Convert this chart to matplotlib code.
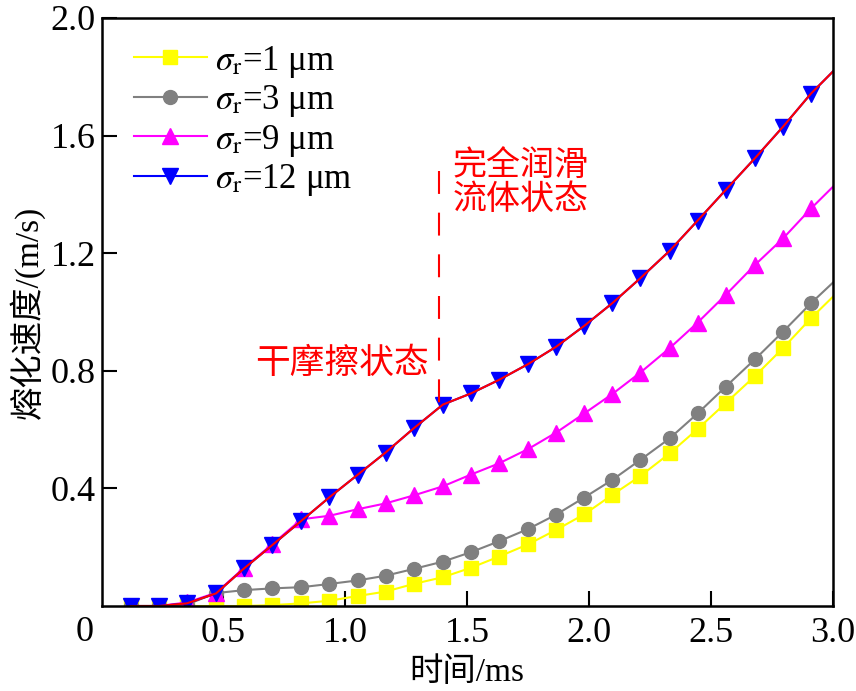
import matplotlib
matplotlib.use('Agg')
import matplotlib.pyplot as plt

plt.rcParams['font.family'] = ['Liberation Serif', 'Noto Sans CJK SC']
plt.rcParams['mathtext.fontset'] = 'stix'

# time axis (ms), markers on all but the last point
t_ms = [0.12, 0.235, 0.35, 0.47, 0.585, 0.70, 0.82, 0.935, 1.05, 1.165, 1.28, 1.40, 1.515,
        1.63, 1.75, 1.865, 1.98, 2.095, 2.21, 2.33, 2.445, 2.56, 2.68, 2.795, 2.91, 3.0]
v_r1 = [0, 0, 0, 0, 0.0, 0.003, 0.009, 0.018, 0.034, 0.049, 0.075, 0.098, 0.13,
        0.168, 0.21, 0.259, 0.312, 0.378, 0.442, 0.519, 0.602, 0.69, 0.782, 0.877, 0.979, 1.052]
v_r3 = [0, 0, 0.005, 0.044, 0.054, 0.060, 0.064, 0.075, 0.087, 0.103, 0.126, 0.151, 0.183,
        0.22, 0.262, 0.311, 0.369, 0.429, 0.497, 0.570, 0.655, 0.746, 0.839, 0.933, 1.03, 1.10]
v_r9 = [0, 0, 0.012, 0.045, 0.13, 0.21, 0.295, 0.307, 0.329, 0.349, 0.376, 0.407, 0.447,
        0.485, 0.534, 0.59, 0.655, 0.721, 0.794, 0.877, 0.964, 1.058, 1.16, 1.25, 1.352, 1.426]
v_r12 = [0, 0, 0.009, 0.043, 0.128, 0.207, 0.29, 0.37, 0.446, 0.522, 0.604, 0.685, 0.723,
         0.769, 0.823, 0.882, 0.953, 1.03, 1.115, 1.208, 1.311, 1.415, 1.523, 1.63, 1.743, 1.818]

labels = [r'$\sigma_\mathrm{r}$=1 μm', r'$\sigma_\mathrm{r}$=3 μm',
          r'$\sigma_\mathrm{r}$=9 μm', r'$\sigma_\mathrm{r}$=12 μm']
t_switch = 1.383   # 完全润滑 boundary

fig = plt.figure(figsize=(8.56, 6.91), dpi=100)
ax = fig.add_axes([0.1186, 0.123, 0.8545, 0.851])

mk = list(range(25))
ax.plot(t_ms, v_r1, color='#ffff00', lw=1.5, marker='s', ms=9.5, markevery=mk, label=labels[0])
ax.plot(t_ms, v_r3, color='#808080', lw=1.5, marker='o', ms=10, markevery=mk, label=labels[1])
ax.plot(t_ms, v_r9, color='#ff00ff', lw=1.5, marker='^', ms=11, markevery=mk, label=labels[2])
ax.plot(t_ms, v_r12, color='#0000ff', lw=1.5, marker='v', ms=11, markevery=mk, label=labels[3])
ax.plot(t_ms, v_r12, color='#ff0000', lw=1.5)

ax.plot([t_switch, t_switch], [1.48, 0.66], color='#ff0000', lw=1.5, dashes=(11, 9))
ax.text(1.44, 1.44, '完全润滑\n流体状态', color='#ff0000', fontsize=24.5,
        va='center', ha='left', linespacing=1.1)
ax.text(0.63, 0.82, '干摩擦状态', color='#ff0000', fontsize=25, va='center', ha='left')

ax.set_xlim(0, 3.0)
ax.set_ylim(0, 2.0)
ax.set_xticks([0.5, 1.0, 1.5, 2.0, 2.5, 3.0])
ax.set_xticklabels(['0.5', '1.0', '1.5', '2.0', '2.5', '3.0'])
ax.set_yticks([0.4, 0.8, 1.2, 1.6, 2.0])
ax.set_yticklabels(['0.4', '0.8', '1.2', '1.6', '2.0'])
ax.tick_params(direction='in', length=11, width=1.5, labelsize=26)
ax.tick_params(axis='x', pad=8)
ax.tick_params(axis='y', pad=4)
for s in ax.spines.values():
    s.set_linewidth(1.8)
ax.annotate('0', xy=(0, 0), xycoords='axes fraction', xytext=(-12, -19),
            textcoords='offset points', ha='center', va='center', fontsize=26)

ax.set_xlabel('时间/ms', fontsize=24, labelpad=5)
ax.set_ylabel('熔化速度/(m/s)', fontsize=24, labelpad=4)

ax.legend(loc='upper left', frameon=False, fontsize=25, handlelength=2.1,
          handletextpad=0.25, labelspacing=0.1, borderaxespad=0.0, borderpad=0.4,
          bbox_to_anchor=(0.025, 0.98))

fig.savefig('out.png', dpi=100)
